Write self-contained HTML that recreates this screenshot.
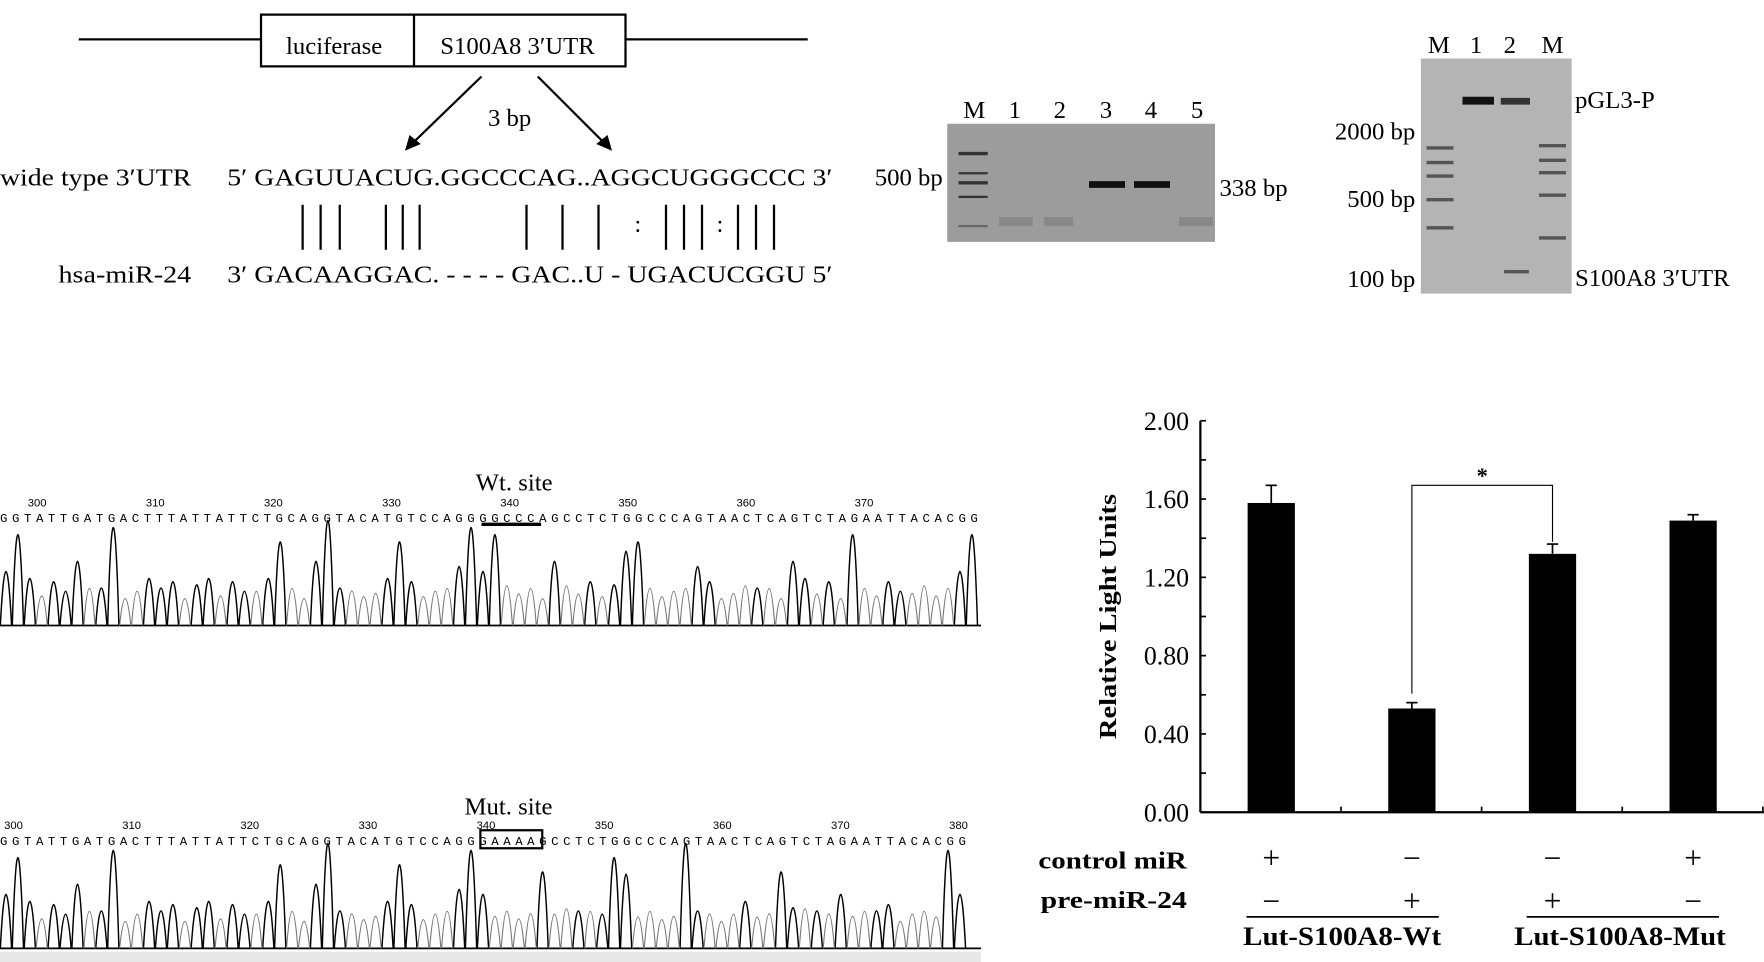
<!DOCTYPE html>
<html><head><meta charset="utf-8"><style>
body{margin:0;background:#fff;width:1764px;height:962px;overflow:hidden;position:relative;font-family:"Liberation Serif",serif;}
svg{position:absolute;left:0;top:0}
</style></head><body>
<svg width="1764" height="962" viewBox="0 0 1764 962">
<g transform="scale(1.125)">
<g font-family="Liberation Serif, serif" font-size="22">
<line x1="70" y1="35" x2="232" y2="35" stroke="#000" stroke-width="2"/>
<line x1="556" y1="35" x2="718" y2="35" stroke="#000" stroke-width="2"/>
<rect x="232" y="13" width="324" height="46" fill="#fff" stroke="#000" stroke-width="2"/>
<line x1="368" y1="13" x2="368" y2="59" stroke="#000" stroke-width="2"/>
<text x="297" y="48" text-anchor="middle">luciferase</text>
<text x="460" y="48" text-anchor="middle">S100A8 3′UTR</text>
<line x1="428" y1="68" x2="366" y2="128" stroke="#000" stroke-width="2"/>
<polygon points="360,134 364,120 374,128" fill="#000"/>
<line x1="478" y1="68" x2="538" y2="128" stroke="#000" stroke-width="2"/>
<polygon points="544,134 530,128 540,120" fill="#000"/>
<text x="453" y="112" text-anchor="middle">3 bp</text>
<text x="0" y="165" textLength="170" lengthAdjust="spacingAndGlyphs">wide type 3′UTR</text>
<text x="202" y="165" textLength="538" lengthAdjust="spacingAndGlyphs">5′ GAGUUACUG.GGCCCAG..AGGCUGGGCCC 3′</text>
<text x="52" y="251" textLength="118" lengthAdjust="spacingAndGlyphs">hsa-miR-24</text>
<text x="202" y="251" textLength="538" lengthAdjust="spacingAndGlyphs">3′ GACAAGGAC. - - - - GAC..U - UGACUCGGU 5′</text>
<g stroke="#000" stroke-width="2" id="pipes"></g>
<text x="567" y="206" text-anchor="middle">:</text>
<text x="640" y="206" text-anchor="middle">:</text>
</g>
<g font-family="Liberation Serif, serif" font-size="22">
<rect x="842" y="110" width="238" height="105" fill="#9c9c9c"/>
<text x="866" y="105" text-anchor="middle">M</text><text x="902" y="105" text-anchor="middle">1</text><text x="942" y="105" text-anchor="middle">2</text><text x="983" y="105" text-anchor="middle">3</text><text x="1023" y="105" text-anchor="middle">4</text><text x="1064" y="105" text-anchor="middle">5</text>
<g fill="#333"><rect x="852" y="135" width="26" height="3"/><rect x="852" y="153" width="26" height="2"/><rect x="852" y="161" width="26" height="3"/><rect x="852" y="174" width="26" height="2"/><rect x="852" y="200" width="26" height="2" opacity=".5"/></g>
<rect x="968" y="161" width="32" height="6" fill="#111"/><rect x="1008" y="161" width="32" height="6" fill="#111"/>
<g fill="#888"><rect x="888" y="193" width="30" height="8"/><rect x="928" y="193" width="26" height="8"/><rect x="1048" y="193" width="30" height="8"/></g>
<text x="838" y="165" text-anchor="end">500 bp</text>
<text x="1084" y="174">338 bp</text>
</g>
<g font-family="Liberation Serif, serif" font-size="22">
<rect x="1263" y="52" width="134" height="209" fill="#b4b4b4"/>
<text x="1279" y="47" text-anchor="middle">M</text><text x="1312" y="47" text-anchor="middle">1</text><text x="1342" y="47" text-anchor="middle">2</text><text x="1380" y="47" text-anchor="middle">M</text>
<rect x="1300" y="86" width="28" height="7" fill="#111"/><rect x="1334" y="87" width="26" height="6" fill="#333"/>
<g fill="#555"><rect x="1268" y="130" width="24" height="3"/><rect x="1268" y="143" width="24" height="3"/><rect x="1268" y="155" width="24" height="3"/><rect x="1268" y="176" width="24" height="3"/><rect x="1268" y="201" width="24" height="3"/><rect x="1368" y="128" width="24" height="3"/><rect x="1368" y="141" width="24" height="3"/><rect x="1368" y="152" width="24" height="3"/><rect x="1368" y="172" width="24" height="3"/><rect x="1368" y="210" width="24" height="3"/><rect x="1337" y="240" width="22" height="3"/></g>
<text x="1258" y="124" text-anchor="end">2000 bp</text>
<text x="1258" y="184" text-anchor="end">500 bp</text>
<text x="1258" y="255" text-anchor="end">100 bp</text>
<text x="1400" y="96">pGL3-P</text>
<text x="1400" y="254">S100A8 3′UTR</text>
</g>
<g id="chromWt"></g>
<g id="chromMut"></g>
<rect x="0" y="846" width="872" height="10" fill="#e8e8e8"/>
<g id="chart" font-family="Liberation Serif, serif"></g>
</g>
</svg>
<script>
const NS="http://www.w3.org/2000/svg";
function mk(t,a,p){const e=document.createElementNS(NS,t);for(const k in a)e.setAttribute(k,a[k]);p.appendChild(e);return e;}
const pipeX=[269,285,302,343,358,373,468,500,532,592,608,624,656,672,688];
const pg=document.getElementById('pipes');
pipeX.forEach(x=>{const l=mk('line',{x1:x,y1:182,x2:x,y2:222},pg);

});

const seqWt="GGTATTGATGACTTTATTATTCTGCAGGTACATGTCCAGGGGCCCAGCCTCTGGCCCAGTAACTCAGTCTAGAATTACACGG";
const seqMut="GGTATTGATGACTTTATTATTCTGCAGGTACATGTCCAGGGAAAAGCCTCTGGCCCAGTAACTCAGTCTAGAATTACACGG";
function chrom(gid,seq,x0,step,txtY,base,title,titleX,titleY,numStart,numX0){
  const g=document.getElementById(gid);
  const t=mk('text',{x:titleX,y:titleY,'text-anchor':'middle','font-size':22},g);t.textContent=title;
  for(let i=0;i<8+(numStart?1:0);i++){const n=mk('text',{x:numX0+i*105,y:txtY-14,'text-anchor':'middle','font-size':10,'font-family':'Liberation Sans, sans-serif'},g);n.textContent=300+i*10;}
  const st=mk('text',{x:x0,y:txtY,'font-size':11,'font-family':'Liberation Mono, monospace',textLength:step*seq.length,lengthAdjust:'spacing'},g);st.textContent=seq;
  mk('line',{x1:0,y1:base,x2:872,y2:base,stroke:'#000','stroke-width':1.5},g);
  let dk="",lt="";
  for(let i=0;i<seq.length;i++){const c=seq[i];const cx=x0+i*step+step/2;
    const h={G:[60,85][i%2],A:30,T:38,C:32}[c]*(0.8+0.3*((i*7)%5)/4);
    const p=`M${cx-5},${base} Q${cx},${base-h*2} ${cx+5},${base} `;
    if(c==='G'||c==='T') dk+=p; else lt+=p;}
  mk('path',{d:dk,fill:'none',stroke:'#000','stroke-width':1.3},g);
  mk('path',{d:lt,fill:'none',stroke:'#777','stroke-width':1},g);
}
chrom('chromWt',seqWt,0,10.6,464,556,'Wt. site',457,436,0,33);
mk('line',{x1:428,y1:466,x2:481,y2:466,stroke:'#000','stroke-width':3},document.getElementById('chromWt'));
chrom('chromMut',seqMut,0,10.6,751,843,'Mut. site',452,724,1,12);
mk('rect',{x:427,y:738,width:55,height:16,fill:'none',stroke:'#000','stroke-width':2},document.getElementById('chromMut'));

const categories=["Wt-control","Wt-pre-miR-24","Mut-pre-miR-24","Mut-control"];
const values=[1.58,0.53,1.32,1.49];
const errors=[0.09,0.03,0.05,0.03];
const yTicks=[0,0.4,0.8,1.2,1.6,2.0];
const yTickLabels=["0.00","0.40","0.80","1.20","1.60","2.00"];
const controlMiR=["+","−","−","+"];
const preMiR=["−","+","+","−"];
const ch=document.getElementById('chart');
const X0=1067,Y0=722,Ymax=2.0,H=348,BW=42;
const y=v=>Y0-v/Ymax*H;
const xc=i=>1130+i*125;
const ax=mk('line',{x1:X0,y1:y(2),x2:X0,y2:Y0,stroke:'#000','stroke-width':2},ch);

const xa=mk('line',{x1:X0,y1:Y0,x2:1568,y2:Y0,stroke:'#000','stroke-width':2},ch);

for(let v=0;v<=2.0001;v+=0.2){mk('line',{x1:X0,y1:y(v),x2:X0+5,y2:y(v),stroke:'#000','stroke-width':1.5},ch);}
yTicks.forEach((v,i)=>{const t=mk('text',{x:X0-10,y:y(v)+8,'text-anchor':'end','font-size':23},ch);t.textContent=yTickLabels[i];
});
for(let i=0;i<4;i++){const xx=xc(i)+62;mk('line',{x1:xx,y1:Y0,x2:xx,y2:Y0-5,stroke:'#000','stroke-width':1.5},ch);}
const yt=mk('text',{transform:`translate(992,548) rotate(-90)`,'text-anchor':'middle','font-size':22,'font-weight':'bold',textLength:218,lengthAdjust:'spacingAndGlyphs'},ch);yt.textContent="Relative Light Units";

values.forEach((v,i)=>{
  const r=mk('rect',{x:xc(i)-BW/2,y:y(v),width:BW,height:Y0-y(v),fill:'#000'},ch);
  
  
  mk('line',{x1:xc(i),y1:y(v),x2:xc(i),y2:y(v+errors[i]),stroke:'#000','stroke-width':1.5},ch);
  mk('line',{x1:xc(i)-5,y1:y(v+errors[i]),x2:xc(i)+5,y2:y(v+errors[i]),stroke:'#000','stroke-width':1.5},ch);
  const a=mk('text',{x:xc(i),y:772,'text-anchor':'middle','font-size':28},ch);a.textContent=controlMiR[i];
  
  const b=mk('text',{x:xc(i),y:810,'text-anchor':'middle','font-size':28},ch);b.textContent=preMiR[i];
  
});
const bt=y(1.67);
mk('path',{d:`M${xc(1)},${y(values[1]+errors[1])-8} V${bt} H${xc(2)} V${y(values[2]+errors[2])-2}`,fill:'none',stroke:'#000','stroke-width':1},ch);
const st=mk('text',{x:(xc(1)+xc(2))/2,y:bt-2,'text-anchor':'middle','font-size':20,'font-weight':'bold'},ch);st.textContent="*";

const l1=mk('text',{x:1055,y:772,'text-anchor':'end','font-size':22,'font-weight':'bold',textLength:132,lengthAdjust:'spacingAndGlyphs'},ch);l1.textContent="control miR";

const l2=mk('text',{x:1055,y:807,'text-anchor':'end','font-size':22,'font-weight':'bold',textLength:130,lengthAdjust:'spacingAndGlyphs'},ch);l2.textContent="pre-miR-24";

mk('line',{x1:1108,y1:815,x2:1279,y2:815,stroke:'#000','stroke-width':1.5},ch);
mk('line',{x1:1357,y1:815,x2:1528,y2:815,stroke:'#000','stroke-width':1.5},ch);
const g1=mk('text',{x:1193,y:840,'text-anchor':'middle','font-size':23,'font-weight':'bold',textLength:176,lengthAdjust:'spacingAndGlyphs'},ch);g1.textContent="Lut-S100A8-Wt";

const g2=mk('text',{x:1440,y:840,'text-anchor':'middle','font-size':23,'font-weight':'bold',textLength:188,lengthAdjust:'spacingAndGlyphs'},ch);g2.textContent="Lut-S100A8-Mut";

</script>
</body></html>
